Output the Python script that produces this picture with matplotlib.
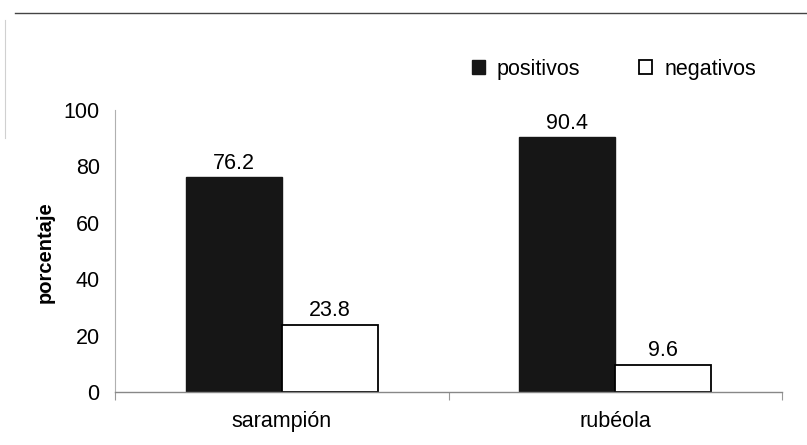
import numpy as np
import matplotlib.pyplot as plt
from matplotlib.lines import Line2D

plt.rcParams['font.family'] = ['Liberation Sans', 'DejaVu Sans']

categorias = ["sarampión", "rubéola"]
positivos = [76.2, 90.4]
negativos = [23.8, 9.6]
y_ticks = [0, 20, 40, 60, 80, 100]

W, H = 807, 445
fig = plt.figure(figsize=(W / 100, H / 100), dpi=100)
ax = fig.add_axes([115 / W, 1 - 392 / H, (782 - 115) / W, (392 - 110) / H])

x = np.arange(len(categorias))
ancho = 0.288
ax.bar(x - ancho / 2, positivos, ancho, color="#161616", edgecolor="#161616",
       linewidth=1.0, label="positivos")
ax.bar(x + ancho / 2, negativos, ancho, color="white", edgecolor="black",
       linewidth=1.3, label="negativos")

# etiquetas de valor sobre las barras
for xi, v in zip(x - ancho / 2, positivos):
    ax.text(xi, v + 3.0, f"{v:.1f}", ha="center", va="baseline", fontsize=15.5)
for xi, v in zip(x + ancho / 2, negativos):
    ax.text(xi, v + 3.0, f"{v:.1f}", ha="center", va="baseline", fontsize=15.5)

ax.set_xlim(-0.5, 1.5)
ax.set_ylim(0, 100)
ax.set_yticks(y_ticks)
ax.set_xticks([-0.5, 0.5, 1.5])
ax.set_xticklabels([])
ax.set_xticks(x, minor=True)
ax.set_xticklabels(categorias, minor=True, fontsize=15.5)
ax.tick_params(axis="x", which="minor", length=0, pad=14)
ax.tick_params(axis="x", which="major", length=6, color="#999999",
               direction="out", width=0.8)
ax.tick_params(axis="y", length=0, pad=11, labelsize=15.5)

for s in ["top", "right"]:
    ax.spines[s].set_visible(False)
ax.spines["left"].set_color("#b0b0b0")
ax.spines["bottom"].set_color("#888888")
ax.spines["left"].set_linewidth(0.8)
ax.spines["bottom"].set_linewidth(1.0)

fig.text(45 / W, 1 - 252 / H, "porcentaje", rotation=90, ha="center",
         va="center", fontsize=14.5, fontweight="bold")

fig.legend(loc="center left", bbox_to_anchor=(472 / W, 1 - 69 / H), ncol=2,
           frameon=False, fontsize=15.5, handlelength=0.6, handleheight=0.6,
           handletextpad=0.55, columnspacing=2.75, borderpad=0,
           borderaxespad=0)

# bordes del recuadro escaneado
fig.add_artist(Line2D([15 / W, 1.0], [1 - 13 / H, 1 - 13 / H],
                      color="#444444", linewidth=1.0))
fig.add_artist(Line2D([5 / W, 5 / W], [1 - 20 / H, 1 - 138 / H],
                      color="#d0d0d0", linewidth=0.8))

fig.savefig("out.png", dpi=100)
